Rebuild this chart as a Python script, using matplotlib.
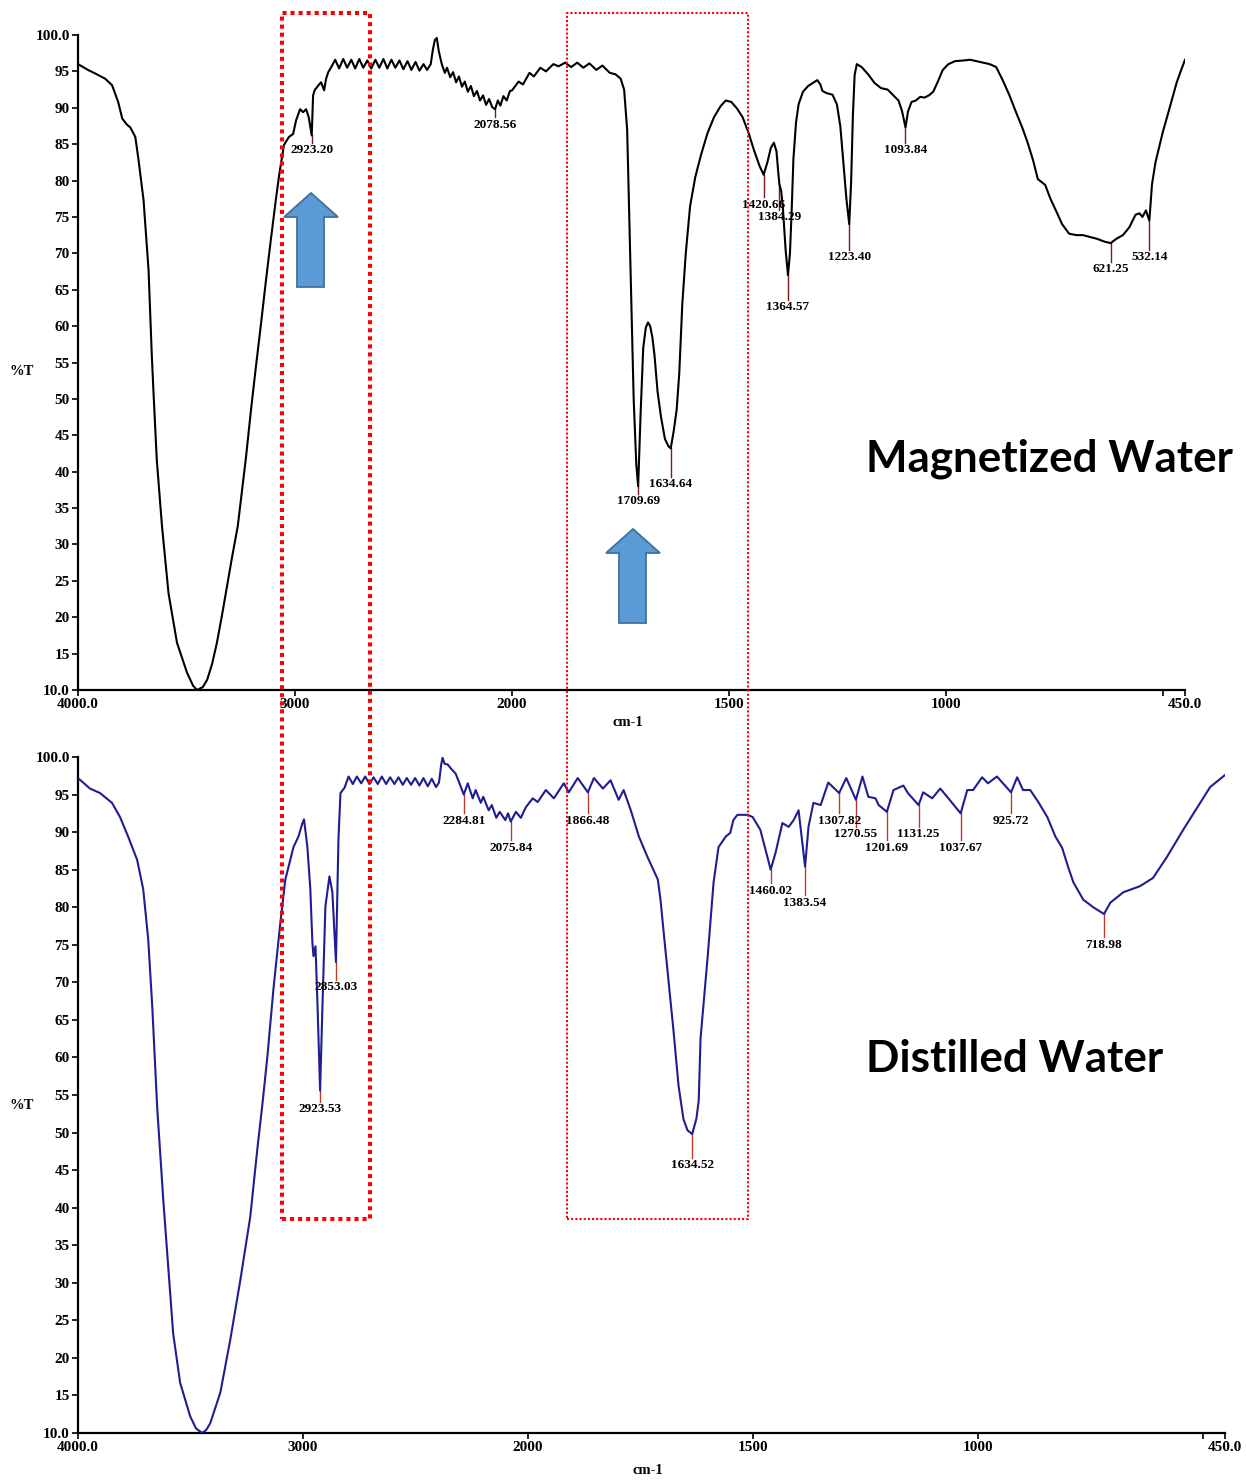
import numpy as np
import matplotlib
matplotlib.use("Agg")
from matplotlib import pyplot as plt
from matplotlib.patches import Rectangle, Polygon

plt.rcParams["font.family"] = "serif"
plt.rcParams["font.serif"] = ["Liberation Serif", "DejaVu Serif"]
plt.rcParams["font.weight"] = "bold"
plt.rcParams["axes.labelweight"] = "bold"

W, H = 1246, 1481

# Magnetized water FTIR spectrum: wavenumber (cm-1) and %T
mag_wn = [4000, 3954, 3920, 3875, 3843, 3815, 3796, 3775, 3759, 3736, 3721, 3698,
          3675, 3660, 3652, 3637, 3613, 3583, 3544, 3498, 3470, 3452, 3425, 3405,
          3382, 3360, 3337, 3314, 3290, 3264, 3226, 3203, 3180, 3157, 3134, 3111,
          3088, 3073, 3051, 3028, 3009, 2995, 2977, 2963, 2949, 2937, 2923.20, 2917,
          2910, 2895, 2880, 2866, 2857, 2847, 2833, 2815, 2797, 2778, 2760, 2741,
          2723, 2704, 2686, 2667, 2649, 2630, 2612, 2593, 2575, 2556, 2538, 2519,
          2501, 2482, 2464, 2445, 2427, 2408, 2392, 2375, 2365, 2356, 2347, 2338,
          2324, 2310, 2300, 2285, 2272, 2258, 2245, 2231, 2218, 2204, 2190, 2176,
          2162, 2148, 2134, 2120, 2106, 2092, 2078.56, 2066, 2054, 2040, 2025, 2010,
          2000, 1985, 1975, 1960, 1950, 1935, 1922, 1905, 1893, 1878, 1864, 1850,
          1836, 1822, 1806, 1792, 1775, 1762, 1750, 1742, 1735, 1728, 1720, 1714,
          1709.69, 1704, 1698, 1692, 1687, 1682, 1677, 1672, 1665, 1657, 1648, 1640,
          1634.64, 1628, 1621, 1615, 1608, 1600, 1590, 1578, 1565, 1550, 1535, 1520,
          1508, 1495, 1482, 1469, 1455, 1443, 1430, 1420.66, 1412, 1404, 1397, 1391,
          1386, 1384.29, 1380, 1376, 1370, 1364.57, 1360, 1356, 1352, 1346, 1340, 1330,
          1318, 1305, 1297, 1290, 1285, 1275, 1262, 1252, 1244, 1237, 1230, 1223.40,
          1219, 1215, 1211, 1206, 1195, 1180, 1165, 1150, 1135, 1120, 1110, 1102,
          1093.84, 1088, 1080, 1070, 1060, 1050, 1040, 1030, 1020, 1008, 995, 980,
          960, 945, 930, 915, 900, 885, 870, 855, 840, 825, 813, 800,
          789, 772, 760, 749, 733, 717, 700, 685, 653, 635, 621.25, 608,
          593, 578, 564, 555, 548, 540, 532.14, 526, 518, 510, 501, 490,
          469, 460, 450]
mag_t = [96.0, 95.2, 94.7, 94.0, 93.1, 90.8, 88.5, 87.7, 87.3, 86.0, 82.8, 77.3,
         67.7, 56.0, 50.8, 41.6, 32.5, 23.3, 16.5, 12.4, 10.6, 10.0, 10.4, 11.4,
         13.6, 16.5, 20.2, 24.2, 28.3, 32.5, 42.0, 48.5, 54.5, 60.3, 66.3, 72.0,
         77.5, 80.8, 84.9, 86.0, 86.4, 88.3, 89.8, 89.4, 89.8, 88.7, 86.2, 91.7,
         92.4, 93.0, 93.5, 92.4, 94.0, 94.9, 95.6, 96.6, 95.4, 96.7, 95.5, 96.6,
         95.4, 96.7, 95.5, 96.5, 95.4, 96.6, 95.5, 96.7, 95.4, 96.6, 95.5, 96.5,
         95.3, 96.4, 95.2, 96.3, 95.1, 96.0, 95.2, 96.0, 98.0, 99.3, 99.6, 97.8,
         96.0, 94.8, 95.5, 94.2, 94.9, 93.5, 94.3, 92.9, 93.6, 92.2, 93.0, 91.6,
         92.3, 91.0, 91.7, 90.4, 91.2, 90.1, 89.8, 91.0, 90.3, 91.6, 91.0, 92.3,
         92.4, 93.6, 93.2, 94.8, 94.3, 95.5, 95.0, 96.0, 95.7, 96.2, 95.6, 96.2,
         95.5, 96.1, 95.2, 95.8, 94.8, 94.6, 94.0, 92.5, 87.0, 70.0, 50.0, 41.0,
         38.0, 48.0, 57.0, 59.8, 60.5, 60.0, 58.5, 56.0, 51.0, 47.5, 44.5, 43.5,
         43.2, 45.5, 48.5, 53.5, 63.0, 70.0, 76.5, 80.5, 83.5, 86.5, 88.7, 90.2,
         91.0, 90.8, 89.9, 88.7, 86.5, 84.2, 82.0, 80.8, 82.5, 84.5, 85.2, 84.0,
         80.5, 79.5, 78.5, 76.0, 70.5, 67.0, 70.0, 76.0, 83.0, 88.0, 90.5, 92.2,
         93.0, 93.5, 93.8, 93.2, 92.3, 92.0, 91.8, 90.5, 87.5, 82.5, 77.5, 74.0,
         80.0, 89.0, 94.5, 96.0, 95.6, 94.6, 93.4, 92.7, 92.5, 91.6, 91.0, 89.6,
         87.3, 89.5, 90.8, 91.0, 91.5, 91.4, 91.7, 92.2, 93.5, 95.2, 96.0, 96.4,
         96.5, 96.6, 96.4, 96.2, 96.0, 95.6, 93.8, 91.8, 89.5, 87.3, 85.3, 82.8,
         80.2, 79.4, 77.5, 76.1, 74.0, 72.7, 72.5, 72.5, 72.0, 71.6, 71.4, 72.0,
         72.5, 73.6, 75.3, 75.5, 75.0, 75.9, 74.5, 79.5, 82.5, 84.5, 86.7, 89.0,
         93.5, 95.0, 96.6]
mag_peaks = [2923.20, 2078.56, 1709.69, 1634.64, 1420.66, 1384.29, 1364.57,
             1223.40, 1093.84, 621.25, 532.14]
mag_peak_ends = [85.2, 88.7, 37.0, 39.3, 77.7, 76.0, 63.6, 70.5, 85.2, 68.8, 70.5]

# Distilled water FTIR spectrum
dis_wn = [4000, 3947, 3902, 3849, 3813, 3777, 3737, 3710, 3688, 3670, 3648, 3621,
          3599, 3577, 3546, 3501, 3475, 3448, 3430, 3412, 3367, 3323, 3278, 3234,
          3203, 3180, 3158, 3131, 3100, 3078, 3042, 3020, 3002, 2995, 2980, 2967,
          2958, 2953, 2944, 2935, 2923.53, 2913, 2900, 2882, 2869, 2853.03, 2842, 2833,
          2815, 2797, 2778, 2760, 2741, 2723, 2704, 2686, 2667, 2649, 2630, 2612,
          2593, 2575, 2556, 2538, 2519, 2501, 2482, 2464, 2445, 2427, 2408, 2395,
          2385, 2379, 2370, 2356, 2340, 2321, 2305, 2284.81, 2267, 2245, 2232, 2209,
          2198, 2174, 2160, 2140, 2125, 2100, 2088, 2075.84, 2053, 2031, 2009, 1989,
          1978, 1960, 1942, 1920, 1909, 1889, 1866.48, 1853, 1833, 1816, 1798, 1787,
          1771, 1753, 1734, 1711, 1705, 1698, 1687, 1676, 1665, 1654, 1645, 1634.52,
          1625, 1620, 1616, 1600, 1587, 1576, 1560, 1550, 1543, 1534, 1511, 1500,
          1483, 1460.02, 1449, 1434, 1420, 1409, 1398, 1383.54, 1376, 1365, 1349, 1332,
          1307.82, 1292, 1270.55, 1256, 1243, 1227, 1220, 1201.69, 1187, 1165, 1155, 1131.25,
          1121, 1101, 1083, 1065, 1037.67, 1023, 1010, 990, 977, 957, 925.72, 912,
          899, 883, 865, 845, 827, 812, 799, 787, 765, 743, 718.98, 705,
          676, 639, 610, 579, 543, 505, 483, 450]
dis_t = [97.2, 95.8, 95.2, 93.9, 92.0, 89.4, 86.3, 82.4, 75.8, 66.9, 53.4, 41.1,
         32.2, 23.3, 16.7, 12.2, 10.6, 10.0, 10.4, 11.3, 15.4, 22.4, 30.4, 38.8,
         47.7, 53.8, 60.1, 69.1, 78.0, 83.7, 88.0, 89.4, 91.2, 91.7, 88.0, 82.4,
         75.4, 73.5, 74.8, 66.9, 55.6, 66.9, 80.1, 84.1, 82.0, 72.7, 89.0, 95.2,
         95.9, 97.4, 96.4, 97.4, 96.5, 97.4, 96.4, 97.3, 96.4, 97.4, 96.4, 97.3,
         96.4, 97.3, 96.3, 97.2, 96.3, 97.2, 96.2, 97.2, 96.1, 97.1, 96.0, 96.6,
         99.0, 99.9, 99.1, 99.0, 98.4, 97.8, 96.6, 95.0, 96.5, 94.5, 95.6, 93.9,
         94.7, 92.9, 93.6, 91.9, 92.7, 91.6, 92.5, 91.4, 92.7, 91.9, 93.3, 94.5,
         94.0, 95.6, 94.5, 96.5, 95.3, 97.2, 95.3, 97.2, 95.8, 96.9, 94.3, 95.6,
         92.9, 89.4, 86.7, 83.7, 81.0, 76.7, 70.1, 63.5, 56.3, 51.8, 50.3, 49.8,
         51.9, 54.3, 62.5, 73.5, 83.3, 88.0, 89.4, 89.9, 91.6, 92.3, 92.3, 92.0,
         90.3, 85.0, 87.3, 91.2, 90.7, 91.6, 92.9, 85.4, 90.7, 93.9, 93.6, 96.6,
         95.2, 97.2, 94.3, 97.4, 94.7, 94.5, 93.6, 92.7, 95.6, 96.2, 95.2, 93.6,
         95.3, 94.5, 95.8, 94.5, 92.5, 95.6, 95.6, 97.3, 96.5, 97.4, 95.3, 97.3,
         95.6, 95.6, 94.0, 92.0, 89.4, 87.9, 85.4, 83.3, 81.0, 80.0, 79.1, 80.6,
         82.0, 82.8, 83.9, 86.7, 90.3, 93.9, 96.0, 97.6]
dis_peaks = [2923.53, 2853.03, 2284.81, 2075.84, 1866.48, 1634.52, 1460.02, 1383.54,
             1307.82, 1270.55, 1201.69, 1131.25, 1037.67, 925.72, 718.98]
dis_peak_ends = [54.1, 70.3, 92.5, 88.9, 92.5, 46.6, 83.2, 81.6,
                 92.5, 90.7, 88.9, 90.7, 88.9, 92.5, 76.0]

x_ticks = [4000, 3000, 2000, 1500, 1000, 500, 450]
x_ticklabels = ["4000.0", "3000", "2000", "1500", "1000", "", "450.0"]
y_ticks = list(range(10, 101, 5))
y_ticklabels = ["10.0"] + [str(v) for v in range(15, 100, 5)] + ["100.0"]


# instrument axis: below 2000 cm-1 the scale is stretched two-fold
def fwd(w):
    w = np.asarray(w, dtype=float)
    return np.where(w >= 2000, w, 2 * w - 2000)


def inv(u):
    u = np.asarray(u, dtype=float)
    return np.where(u >= 2000, u, (u + 2000) / 2)


def fx(x):
    return x / W


def fy(y):
    return 1 - y / H


def draw_spectrum(ax, wn, t, color, peaks, ends, mark_color, lab_xy, xl_y):
    ax.set_xscale("function", functions=(fwd, inv))
    ax.plot(wn, t, color=color, lw=1.5, zorder=3)
    wn_r = np.array(wn)[::-1]
    t_r = np.array(t)[::-1]
    for p, e in zip(peaks, ends):
        tp = np.interp(p, wn_r, t_r)
        ax.plot([p, p], [tp, e], color=mark_color, lw=1.0, zorder=2)
        ax.annotate(f"{p:.2f}", xy=(p, e), xytext=(0, -1), textcoords="offset points",
                    ha="center", va="top", fontsize=9.5, fontweight="bold")
    ax.set_xlim(4000, 450)
    ax.set_ylim(10, 100)
    ax.set_xticks(x_ticks)
    ax.set_xticklabels(x_ticklabels)
    ax.set_yticks(y_ticks)
    ax.set_yticklabels(y_ticklabels)
    ax.minorticks_off()
    for s in ["top", "right"]:
        ax.spines[s].set_visible(False)
    for s in ["left", "bottom"]:
        ax.spines[s].set_linewidth(1.6)
    ax.tick_params(direction="out", length=4, width=1.2, labelsize=11, pad=2)
    ax.set_ylabel("%T", rotation=0, fontsize=10.5, ha="center", va="center")
    ax.yaxis.set_label_coords(*lab_xy)
    ax.set_xlabel("cm-1", fontsize=10.5, va="center")
    ax.xaxis.set_label_coords(0.497, xl_y)


fig = plt.figure(figsize=(W / 100, H / 100), dpi=100)
ax_top = fig.add_axes([fx(78), fy(690), (1185 - 78) / W, (690 - 35) / H])
ax_bot = fig.add_axes([fx(78), fy(1433), (1225 - 78) / W, (1433 - 757) / H])

draw_spectrum(ax_top, mag_wn, mag_t, "black", mag_peaks, mag_peak_ends,
              "#7a1c1c", (-0.0506, 0.4855), -0.050)
draw_spectrum(ax_bot, dis_wn, dis_t, "#1e1e92", dis_peaks, dis_peak_ends,
              "#c0392b", (-0.0488, 0.485), -0.055)

fig.text(fx(866), fy(472), "Magnetized Water", family="Lato", weight="bold",
         fontsize=31.7, va="baseline", ha="left")
fig.text(fx(866), fy(1072), "Distilled Water", family="Lato", weight="bold",
         fontsize=31.7, va="baseline", ha="left")

# dotted boxes around the regions of interest
boxes = [((282, 13, 370, 1219), 2.9), ((567, 13, 748, 1219), 1.5)]
for (x0, y0, x1, y1), lw in boxes:
    fig.add_artist(Rectangle((fx(x0), fy(y1)), (x1 - x0) / W, (y1 - y0) / H,
                             transform=fig.transFigure, fill=False,
                             edgecolor="#ff0000", lw=lw, linestyle=(0, (1, 1)),
                             zorder=5))

# block arrows pointing at the changed bands
for cx, tip, base, bottom in [(311, 193, 217, 287), (633, 529, 553, 623)]:
    pts = [(cx, tip), (cx + 27, base), (cx + 13, base), (cx + 13, bottom),
           (cx - 14, bottom), (cx - 14, base), (cx - 27, base)]
    fig.add_artist(Polygon([(fx(x), fy(y)) for x, y in pts], closed=True,
                           transform=fig.transFigure, facecolor="#5b9bd5",
                           edgecolor="#41719c", lw=1.3, zorder=6))

fig.savefig("out.png", dpi=100)
